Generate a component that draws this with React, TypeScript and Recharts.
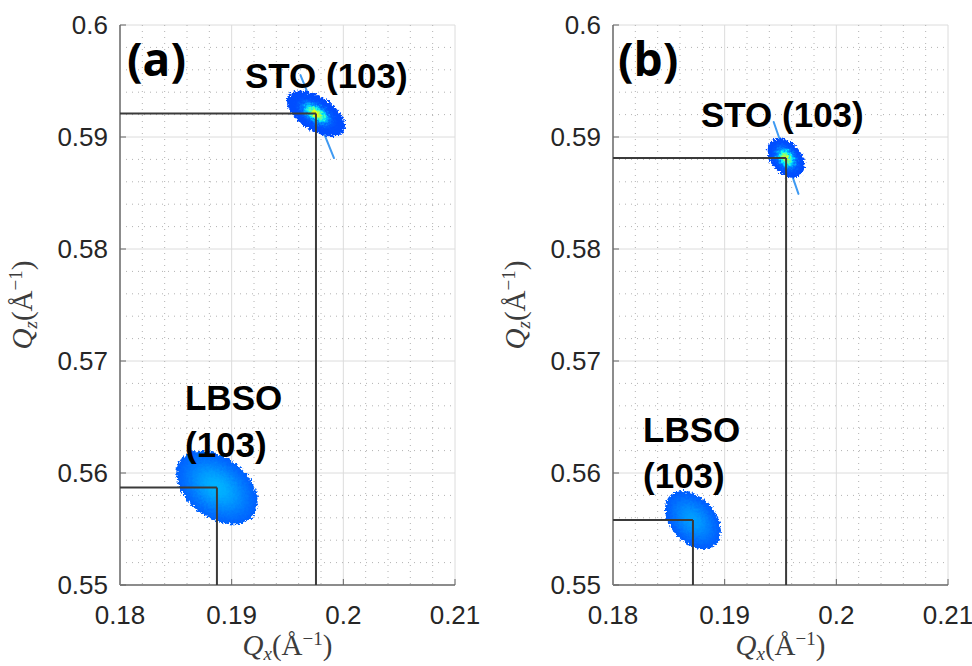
import React from "react";
import {
  ScatterChart,
  Scatter,
  XAxis,
  YAxis,
  CartesianGrid,
  ReferenceLine,
} from "recharts";

// reciprocal-space window (Å⁻¹)
const qxDomain: [number, number] = [0.18, 0.21];
const qzDomain: [number, number] = [0.55, 0.6];
const qxTicks = [0.18, 0.19, 0.2, 0.21];
const qzTicks = [0.55, 0.56, 0.57, 0.58, 0.59, 0.6];
const qxMinor = [
  0.182, 0.184, 0.186, 0.188, 0.192, 0.194, 0.196, 0.198, 0.202, 0.204, 0.206,
  0.208,
];
const qzMinor = [
  0.552, 0.554, 0.556, 0.558, 0.562, 0.564, 0.566, 0.568, 0.572, 0.574, 0.576,
  0.578, 0.582, 0.584, 0.586, 0.588, 0.592, 0.594, 0.596, 0.598,
];

// peak centre, half widths along the long/short axis (Å⁻¹), tilt (deg),
// max level on the colour map, and the analyser streak (up/down half lengths)
const peaksA = [
  { id: "a-sto", qx: 0.19755, qz: 0.5921, wl: 0.00295, ws: 0.00152, tilt: 33, level: 0.63, spread: 0.22, rod: [0.0037, 0.0043], rodTilt: 68 },
  { id: "a-lbso", qx: 0.18868, qz: 0.5587, wl: 0.0041, ws: 0.0027, tilt: 38, level: 0.3, spread: 0.55, rod: null, rodTilt: 0 },
];
const peaksB = [
  { id: "b-sto", qx: 0.1955, qz: 0.58813, wl: 0.002, ws: 0.00135, tilt: 50, level: 0.6, spread: 0.25, rod: [0.0034, 0.0034], rodTilt: 71 },
  { id: "b-lbso", qx: 0.18716, qz: 0.5558, wl: 0.003, ws: 0.002, tilt: 48, level: 0.28, spread: 0.55, rod: null, rodTilt: 0 },
];

// text annotations, anchored at their lower-left corner (Å⁻¹)
const notesA = [
  { text: "(a)", qx: 0.18063, qz: 0.59545, big: true },
  { text: "STO (103)", qx: 0.19119, qz: 0.59438, big: false },
  { text: "LBSO", qx: 0.18582, qz: 0.56563, big: false },
  { text: "(103)", qx: 0.18582, qz: 0.56143, big: false },
];
const notesB = [
  { text: "(b)", qx: 0.18045, qz: 0.59545, big: true },
  { text: "STO (103)", qx: 0.18788, qz: 0.5909, big: false },
  { text: "LBSO", qx: 0.18269, qz: 0.56277, big: false },
  { text: "(103)", qx: 0.18269, qz: 0.55866, big: false },
];

const CHART_W = 486;
const CHART_H = 666;
const PLOT_W = 335;
const PLOT_H = 560;
// pixels per Å⁻¹ inside the plot box
const PX_X = PLOT_W / (qxDomain[1] - qxDomain[0]);
const PX_Y = PLOT_H / (qzDomain[1] - qzDomain[0]);
const PX = (PX_X + PX_Y) / 2;

const SANS = "'Liberation Sans', Arial, Helvetica, sans-serif";
const SERIF = "'Liberation Serif', 'Times New Roman', serif";

const jet = (t: number) => {
  const c = (v: number) => Math.round(255 * Math.min(1, Math.max(0, v)));
  return `rgb(${c(1.5 - Math.abs(4 * t - 3))},${c(1.5 - Math.abs(4 * t - 2))},${c(
    1.5 - Math.abs(4 * t - 1)
  )})`;
};

const BASE_LEVEL = 0.2;

const PeakBlob = (props: any) => {
  const { cx, cy, payload } = props;
  if (cx == null || cy == null) return null;
  const p = payload;
  const rx = p.wl * PX;
  const ry = p.ws * PX;
  const stops = Array.from({ length: 13 }, (_, i) => {
    const o = i / 12;
    const lv =
      BASE_LEVEL +
      (p.level - BASE_LEVEL) * Math.exp(-(o * o) / (2 * p.spread * p.spread));
    return <stop key={i} offset={o} stopColor={jet(lv)} />;
  });
  let rod = null;
  if (p.rod) {
    const a = (p.rodTilt * Math.PI) / 180;
    const dx = Math.cos(a);
    const dy = Math.sin(a);
    rod = (
      <line
        x1={cx - dx * p.rod[0] * PX}
        y1={cy - dy * p.rod[0] * PX}
        x2={cx + dx * p.rod[1] * PX}
        y2={cy + dy * p.rod[1] * PX}
        stroke="#3f9af2"
        strokeWidth={2}
        strokeLinecap="round"
      />
    );
  }
  return (
    <g>
      <defs>
        <radialGradient id={`g-${p.id}`}>{stops}</radialGradient>
        <filter id={`f-${p.id}`} x="-40%" y="-40%" width="180%" height="180%">
          <feTurbulence
            type="fractalNoise"
            baseFrequency="0.45"
            numOctaves={2}
            seed={4}
            result="noise"
          />
          <feDisplacementMap
            in="SourceGraphic"
            in2="noise"
            scale={7}
            xChannelSelector="R"
            yChannelSelector="G"
          />
        </filter>
      </defs>
      {rod}
      <g filter={`url(#f-${p.id})`}>
        <ellipse
          cx={cx}
          cy={cy}
          rx={rx}
          ry={ry}
          transform={`rotate(${p.tilt} ${cx} ${cy})`}
          fill={`url(#g-${p.id})`}
        />
      </g>
    </g>
  );
};

const NoteText = (props: any) => {
  const { cx, cy, payload } = props;
  if (cx == null || cy == null) return null;
  return (
    <text
      x={cx}
      y={cy}
      fill="#000"
      fontWeight={700}
      fontFamily={payload.big ? "'Open Sans', sans-serif" : SANS}
      fontSize={payload.big ? 46 : 35}
    >
      {payload.text}
    </text>
  );
};

const QLabel = ({ x, y, sub, rotate }: any) => (
  <text
    x={x}
    y={y}
    textAnchor="middle"
    fontFamily={SERIF}
    fontSize={29}
    fill="#3c3c3c"
    transform={rotate ? `rotate(-90 ${x} ${y})` : undefined}
  >
    <tspan fontStyle="italic">Q</tspan>
    <tspan fontStyle="italic" fontSize={19} dy={5}>
      {sub}
    </tspan>
    <tspan dy={-5}>(Å</tspan>
    <tspan fontSize={19} dy={-10}>
      −1
    </tspan>
    <tspan dy={10}>)</tspan>
  </text>
);

const axisLine = { stroke: "#8c8c8c", strokeWidth: 2 };
const tickLine = { stroke: "#666" };
const tickFont = { fontSize: 26, fill: "#262626", fontFamily: SANS };

// minor grid positions, mapped through the plot box the grid is given
const minorV = ({ offset }: any) =>
  qxMinor.map(
    (v) => offset.left + ((v - qxDomain[0]) / (qxDomain[1] - qxDomain[0])) * offset.width
  );
const minorH = ({ offset }: any) =>
  qzMinor.map(
    (v) => offset.top + ((qzDomain[1] - v) / (qzDomain[1] - qzDomain[0])) * offset.height
  );

type PanelProps = {
  peaks: typeof peaksA;
  notes: typeof notesA;
  left: number;
  yAxisWidth: number;
};

const Panel = ({ peaks, notes, left, yAxisWidth }: PanelProps) => {
  const rightMargin = CHART_W - yAxisWidth - PLOT_W;
  return (
    <div style={{ position: "absolute", left, top: 0 }}>
      <ScatterChart
        width={CHART_W}
        height={CHART_H}
        margin={{ top: 25, right: rightMargin, bottom: 0, left: 0 }}
      >
        <CartesianGrid stroke="#dcdcdc" strokeWidth={1} />
        <CartesianGrid
          stroke="#b2b2b2"
          strokeDasharray="1 5"
          verticalCoordinatesGenerator={minorV}
          horizontalCoordinatesGenerator={minorH}
        />
        <XAxis
          type="number"
          dataKey="qx"
          domain={qxDomain}
          ticks={qxTicks}
          allowDataOverflow
          height={CHART_H - 25 - PLOT_H}
          tickSize={-6}
          tickMargin={27}
          axisLine={axisLine}
          tickLine={tickLine}
          tick={tickFont}
          label={{
            content: ({ viewBox }: any) => (
              <QLabel x={viewBox.x + viewBox.width / 2} y={viewBox.y + 70} sub="x" />
            ),
          }}
        />
        <XAxis
          xAxisId="top"
          orientation="top"
          type="number"
          domain={qxDomain}
          ticks={qxTicks}
          allowDataOverflow
          height={0}
          tickSize={-6}
          tick={false}
          axisLine={axisLine}
          tickLine={tickLine}
        />
        <YAxis
          type="number"
          dataKey="qz"
          domain={qzDomain}
          ticks={qzTicks}
          allowDataOverflow
          width={yAxisWidth}
          tickSize={-6}
          tickMargin={18}
          axisLine={axisLine}
          tickLine={tickLine}
          tick={tickFont}
          label={{
            content: ({ viewBox }: any) => (
              <QLabel
                x={viewBox.x + viewBox.width - 88}
                y={viewBox.y + viewBox.height / 2}
                sub="z"
                rotate
              />
            ),
          }}
        />
        <YAxis
          yAxisId="right"
          orientation="right"
          type="number"
          domain={qzDomain}
          ticks={qzTicks}
          allowDataOverflow
          width={0}
          tickSize={-6}
          tick={false}
          axisLine={axisLine}
          tickLine={tickLine}
        />
        <Scatter data={peaks} shape={PeakBlob} isAnimationActive={false} />
        {peaks.map((p) => (
          <ReferenceLine
            key={`h-${p.id}`}
            segment={[
              { x: qxDomain[0], y: p.qz },
              { x: p.qx, y: p.qz },
            ]}
            stroke="#3a3a3a"
            strokeWidth={2}
            zIndex={700}
          />
        ))}
        {peaks.map((p) => (
          <ReferenceLine
            key={`v-${p.id}`}
            segment={[
              { x: p.qx, y: p.qz },
              { x: p.qx, y: qzDomain[0] },
            ]}
            stroke="#3a3a3a"
            strokeWidth={2}
            zIndex={700}
          />
        ))}
        <Scatter data={notes} shape={NoteText} isAnimationActive={false} zIndex={800} />
      </ScatterChart>
    </div>
  );
};

export default function App() {
  return (
    <div
      style={{
        position: "absolute",
        left: 0,
        top: 0,
        width: 972,
        height: 666,
        background: "#fff",
        fontFamily: SANS,
      }}
    >
      <Panel peaks={peaksA} notes={notesA} left={0} yAxisWidth={120} />
      <Panel peaks={peaksB} notes={notesB} left={486} yAxisWidth={127} />
    </div>
  );
}
